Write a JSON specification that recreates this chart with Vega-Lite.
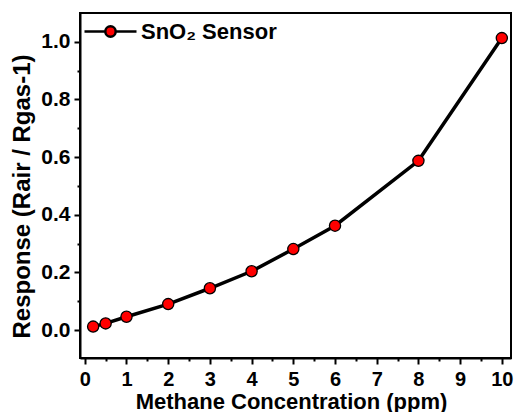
{
  "$schema": "https://vega.github.io/schema/vega-lite/v6.json",
  "width": 431,
  "height": 345,
  "autosize": "none",
  "padding": {"left": 80, "top": 13, "right": 5, "bottom": 54},
  "background": "white",
  "config": {
    "view": {"stroke": "black", "strokeWidth": 2},
    "font": "Liberation Sans",
    "axis": {
      "grid": false,
      "domainColor": "black",
      "domainWidth": 2,
      "tickColor": "black",
      "tickWidth": 2,
      "labelFont": "Liberation Sans",
      "labelFontWeight": "bold",
      "labelFontSize": 21,
      "labelColor": "black",
      "labelFlush": false,
      "labelOverlap": false,
      "titleFont": "Liberation Sans",
      "titleFontWeight": "bold",
      "titleColor": "black"
    }
  },
  "data": {
    "values": [
      {"conc": 0.2, "response": 0.012, "series": "SnO₂ Sensor"},
      {"conc": 0.5, "response": 0.023, "series": "SnO₂ Sensor"},
      {"conc": 1, "response": 0.046, "series": "SnO₂ Sensor"},
      {"conc": 2, "response": 0.09, "series": "SnO₂ Sensor"},
      {"conc": 3, "response": 0.145, "series": "SnO₂ Sensor"},
      {"conc": 4, "response": 0.204, "series": "SnO₂ Sensor"},
      {"conc": 5, "response": 0.281, "series": "SnO₂ Sensor"},
      {"conc": 6, "response": 0.362, "series": "SnO₂ Sensor"},
      {"conc": 8, "response": 0.587, "series": "SnO₂ Sensor"},
      {"conc": 10, "response": 1.013, "series": "SnO₂ Sensor"}
    ]
  },
  "encoding": {
    "x": {
      "field": "conc",
      "type": "quantitative",
      "scale": {"domain": [-0.115, 10.22], "nice": false, "zero": false},
      "axis": {
        "title": "Methane Concentration (ppm)",
        "titleFontSize": 22,
        "titlePadding": 2,
        "titleX": 211,
        "values": [0, 0.5, 1, 1.5, 2, 2.5, 3, 3.5, 4, 4.5, 5, 5.5, 6, 6.5, 7, 7.5, 8, 8.5, 9, 9.5, 10],
        "labelExpr": "datum.value % 1 === 0 ? format(datum.value, 'd') : ''",
        "tickSize": {"condition": {"test": "datum.value % 1 === 0", "value": 6}, "value": 3},
        "labelFontSize": 20,
        "labelPadding": 5
      }
    },
    "y": {
      "field": "response",
      "type": "quantitative",
      "scale": {"domain": [-0.097, 1.1], "nice": false, "zero": false},
      "axis": {
        "title": "Response (Rair / Rgas-1)",
        "titleFontSize": 24,
        "titleX": -46,
        "titleY": 183,
        "values": [0, 0.1, 0.2, 0.3, 0.4, 0.5, 0.6, 0.7, 0.8, 0.9, 1.0],
        "labelExpr": "round(datum.value * 10) % 2 === 0 ? format(datum.value, '.1f') : ''",
        "tickSize": {"condition": {"test": "round(datum.value * 10) % 2 === 0", "value": 6}, "value": 3},
        "labelPadding": 4
      }
    }
  },
  "layer": [
    {"mark": {"type": "line", "color": "black", "strokeWidth": 3.5}},
    {
      "mark": {"type": "point", "shape": "circle", "filled": true, "size": 125, "stroke": "black", "strokeWidth": 1.3, "opacity": 1},
      "encoding": {
        "fill": {
          "field": "series",
          "type": "nominal",
          "scale": {"range": ["#ff0000"]},
          "legend": {
            "title": null,
            "orient": "none",
            "legendX": 3,
            "legendY": -9,
            "padding": 0,
            "symbolType": "M-1,0L-0.2,0M0.2,0L1,0M0.2,0A0.2,0.2,0,1,1,-0.2,0A0.2,0.2,0,1,1,0.2,0Z",
            "symbolSize": 2704,
            "symbolStrokeColor": "black",
            "symbolStrokeWidth": 2.5,
            "symbolOpacity": 1,
            "labelFont": "Liberation Sans",
            "labelFontSize": 22,
            "labelFontWeight": "bold",
            "labelColor": "black",
            "labelOffset": 3,
            "labelLimit": 300
          }
        }
      }
    }
  ]
}
